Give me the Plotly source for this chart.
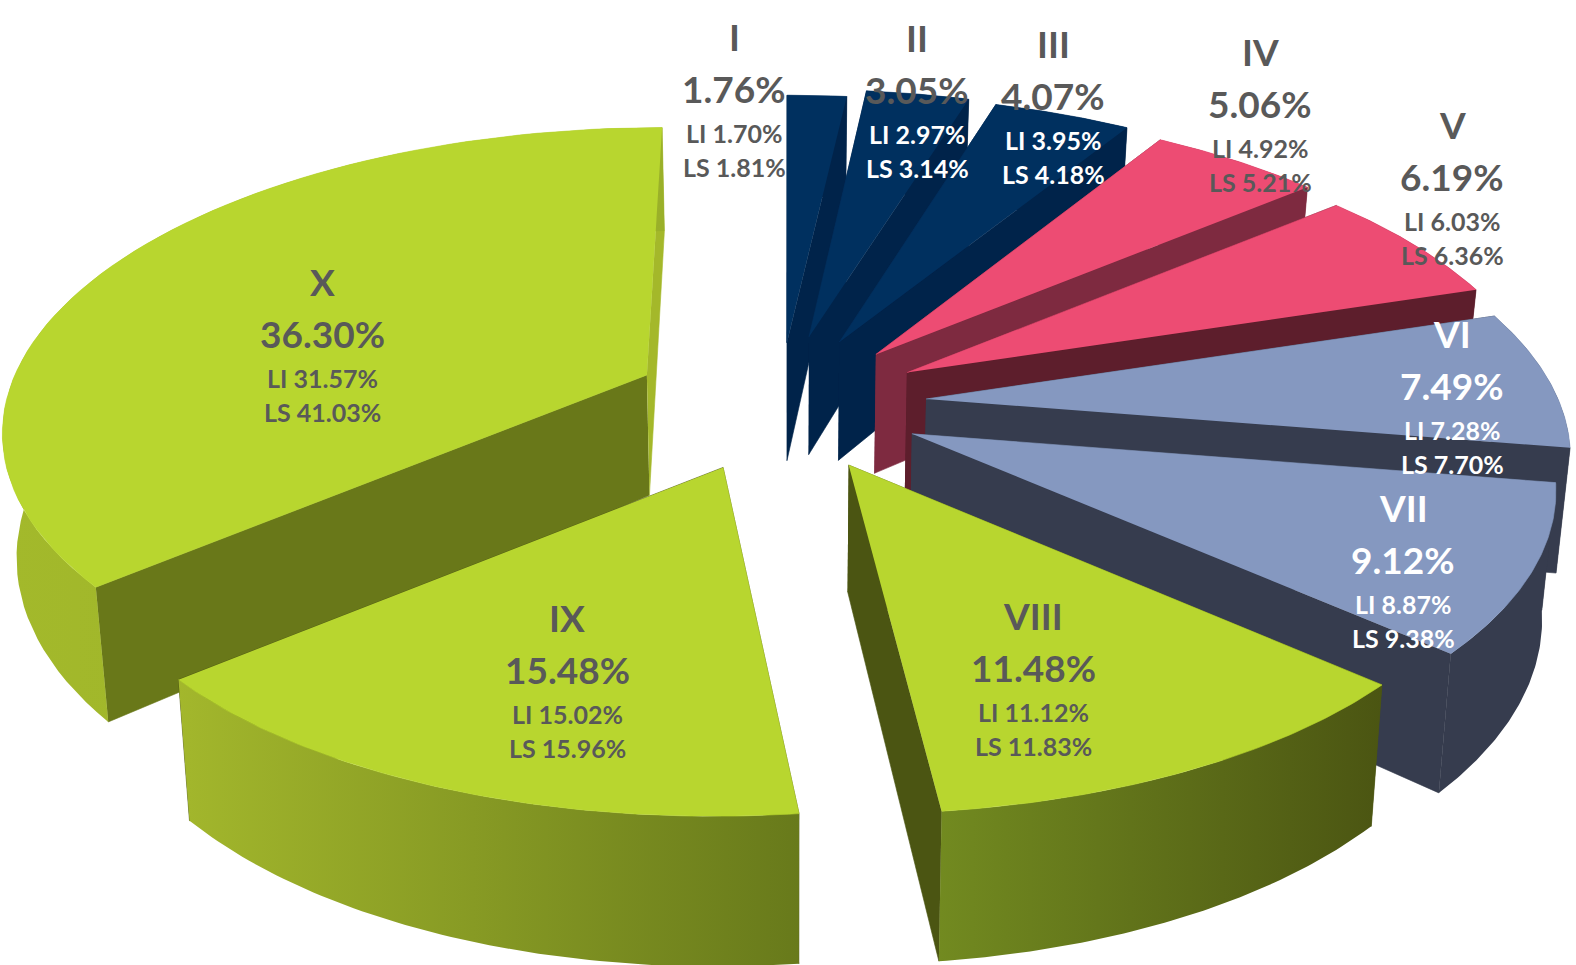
import numpy as np
import plotly.graph_objects as go

# ---- data ----
classes = ["I", "II", "III", "IV", "V", "VI", "VII", "VIII", "IX", "X"]
share = [1.76, 3.05, 4.07, 5.06, 6.19, 7.49, 9.12, 11.48, 15.48, 36.30]
li = [1.70, 2.97, 3.95, 4.92, 6.03, 7.28, 8.87, 11.12, 15.02, 31.57]
ls = [1.81, 3.14, 4.18, 5.21, 6.36, 7.70, 9.38, 11.83, 15.96, 41.03]

# ---- explode amount of each slice, as a fraction of the radius ----
pull_x = [-0.07, 0.18, 0.22, 0.236, 0.23, 0.22, 0.20, 0.176, 0.24, 0.265]
pull_y = [0.22, 0.247, 0.24, 0.22, 0.19, -0.10, 0.27, 0.224, 0.22, 0.195]

# ---- styles ----
NAVY, NAVY_W = "#00305f", "#00234a"
PINK = "#ed4c73"
PERI, PERI_W = "#8598c0", "#363c4e"
GREEN = "#b8d62f"
top_col = [NAVY, NAVY, NAVY, PINK, PINK, PERI, PERI, GREEN, GREEN, GREEN]
wall_col = [NAVY_W, NAVY_W, NAVY_W, "#7e2a40", "#5d1e2c", PERI_W, PERI_W, "#4b5512", "#4b5512", "#697819"]
arc_left = [NAVY_W, NAVY_W, NAVY_W, "#7e2a40", "#5d1e2c", PERI_W, PERI_W, "#728a20", "#a3b72c", "#a3b92b"]
arc_right = [NAVY_W, NAVY_W, NAVY_W, "#7e2a40", "#5d1e2c", PERI_W, PERI_W, "#4b5512", "#687a1b", "#9ab029"]
DARK, WHITE = "#595959", "#ffffff"
# colours of title, share, LI and LS lines
label_col = [
    [DARK, DARK, DARK, DARK], [DARK, DARK, WHITE, WHITE], [DARK, DARK, WHITE, WHITE],
    [DARK, DARK, DARK, DARK], [DARK, DARK, DARK, DARK], [WHITE, WHITE, WHITE, WHITE],
    [WHITE, WHITE, WHITE, WHITE], [DARK, DARK, DARK, DARK], [DARK, DARK, DARK, DARK],
    [DARK, DARK, DARK, DARK],
]
label_x = [734, 917, 1053, 1260, 1452, 1452, 1403, 1033, 567, 322]
label_y = [36, 37, 43, 51, 124, 333, 507, 615, 617, 281]
line_off = [0, 52, 97, 131]
FONT = "Lato"

# ---- projection of the tilted, perspective pie ----
CX, CY = 789, 397
A, B, K, KX = 632, 289.5, 0.17, 0.12


def ring(th):
    den = 1 + K * np.cos(th)
    return A * np.sin(th) / den, -B * np.cos(th) / den


def drop(x, y):
    """Where a top-face point ends up on the bottom face."""
    return x - 0.018 * (x - CX), y + 122 + 0.068 * (y - 400)


fracs = np.array(share) / sum(share)
edges = np.concatenate([[0], np.cumsum(fracs)]) * 2 * np.pi

traces = []


def poly(x, y, color=None, grad=None):
    kw = dict(
        x=np.round(x, 2).tolist(), y=np.round(y, 2).tolist(), mode="lines", fill="toself",
        line=dict(width=0.6, color=color or grad[0]), hoverinfo="skip", showlegend=False,
    )
    if grad is not None:
        kw["fillgradient"] = dict(type="horizontal", colorscale=[[0, grad[0]], [1, grad[1]]])
        kw["line"] = dict(width=0)
    else:
        kw["fillcolor"] = color
    traces.append(go.Scatter(**kw))


def slice_shape(i):
    t0, t1 = edges[i], edges[i + 1]
    mid = (t0 + t1) / 2
    mx, my = ring(mid)
    ax, ay = CX + pull_x[i] * mx, CY + pull_y[i] * my
    if i == 5:  # mid-angle lies almost level with the centre
        ay = CY + 2
    th = np.linspace(t0, t1, 70)
    rx, ry = ring(th)
    m = 1 / (1 + KX * np.cos(th))
    ox = CX + (ax - CX) * m + rx
    oy = ay + ry
    bx, by = drop(ox, oy)
    abx, aby = drop(ax, ay)
    # radial walls
    poly([ax, ox[0], bx[0], abx], [ay, oy[0], by[0], aby], wall_col[i])
    end_col = "#a4b82a" if i == 9 else wall_col[i]
    poly([ax, ox[-1], bx[-1], abx], [ay, oy[-1], by[-1], aby], end_col)
    # rim
    poly(np.r_[ox, bx[::-1]], np.r_[oy, by[::-1]], grad=(arc_left[i], arc_right[i]))
    # top face
    poly(np.r_[ax, ox], np.r_[ay, oy], top_col[i])


for i in [9, 0, 1, 2, 3, 4, 5, 6, 8, 7]:
    slice_shape(i)

fig = go.Figure(traces)

annotations = []
for i, name in enumerate(classes):
    lines = [name, f"{share[i]:.2f}%", f"LI {li[i]:.2f}%", f"LS {ls[i]:.2f}%"]
    for j, text in enumerate(lines):
        annotations.append(dict(
            x=label_x[i], y=label_y[i] + line_off[j], xref="x", yref="y", text=text,
            showarrow=False, xanchor="center", yanchor="middle",
            font=dict(family=FONT, size=37 if j < 2 else 25, color=label_col[i][j], weight=700),
        ))

fig.update_layout(
    width=1576, height=965, autosize=False,
    margin=dict(l=0, r=0, t=0, b=0),
    paper_bgcolor="white", plot_bgcolor="white", showlegend=False,
    xaxis=dict(range=[0, 1576], visible=False, fixedrange=True),
    yaxis=dict(range=[965, 0], visible=False, fixedrange=True),
    annotations=annotations,
)
fig.write_html("out.html", post_script="document.body.style.margin='0';document.documentElement.style.overflow='hidden';",
               config=dict(displayModeBar=False))
